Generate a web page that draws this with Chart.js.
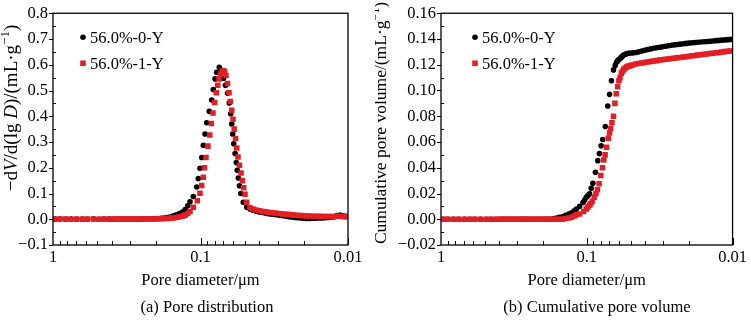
<!DOCTYPE html>
<html>
<head>
<meta charset="utf-8">
<script src="https://cdn.jsdelivr.net/npm/chart.js@4.4.1/dist/chart.umd.min.js"></script>
<style>
  html, body { margin: 0; padding: 0; background: #fff; }
  #wrap { position: relative; width: 751px; height: 321px; overflow: hidden; }
  canvas { position: absolute; top: 0; }
  #pore-dist { left: 0; }
  #pore-cum { left: 375px; }
  .caption { position: absolute; top: 297px; width: 240px; text-align: center;
             font: 16.5px "Liberation Serif", serif; line-height: 20px; color: #000; }
</style>
</head>
<body>
<div id="wrap">
  <canvas id="pore-dist" width="375" height="321"></canvas>
  <canvas id="pore-cum" width="376" height="321"></canvas>
  <div class="caption" style="left:87px">(a) Pore distribution</div>
  <div class="caption" style="left:477px">(b) Cumulative pore volume</div>
</div>
<script>
const seriesNames = ['56.0%-0-Y', '56.0%-1-Y'];

// pore diameters (um), large pores first
const diamCoarse = [0.969, 0.897, 0.820, 0.755, 0.691, 0.633, 0.585, 0.533, 0.488, 0.451, 0.417, 0.392,
  0.374, 0.357, 0.340, 0.325, 0.310, 0.296, 0.282, 0.269, 0.257, 0.245, 0.234, 0.223, 0.213,
  0.203, 0.194, 0.185, 0.177, 0.169, 0.161, 0.154, 0.147, 0.140, 0.133, 0.127, 0.122];
const diamPeak0 = [0.1178, 0.1119, 0.1061, 0.1035, 0.1008, 0.0981, 0.0957, 0.0932, 0.0908, 0.0872,
  0.0840, 0.0819, 0.0797, 0.0777, 0.0746, 0.0718, 0.0698, 0.0677, 0.0656, 0.0638, 0.0624, 0.0614,
  0.0605, 0.0595, 0.0583, 0.0572, 0.0563, 0.0554, 0.0544, 0.0533, 0.0513, 0.0486];
const diamPeak1 = [0.1178, 0.1119, 0.1051, 0.1008, 0.0981, 0.0957, 0.0939, 0.0918, 0.0890, 0.0865,
  0.0845, 0.0823, 0.0801, 0.0781, 0.0764, 0.0749, 0.0732, 0.0712, 0.0698, 0.0686, 0.0672, 0.0656,
  0.0641, 0.0628, 0.0614, 0.0602, 0.0591, 0.0579, 0.0568, 0.0557, 0.0544, 0.0531, 0.0521, 0.0509,
  0.0499, 0.0486];
const diamFine = [0.0462, 0.0441, 0.0420, 0.0401, 0.0383, 0.0365, 0.0349, 0.0333, 0.0317, 0.0303,
  0.0289, 0.0276, 0.0263, 0.0251, 0.0240, 0.0229, 0.0218, 0.0208, 0.0199, 0.0190, 0.0181, 0.0173,
  0.0165, 0.0157, 0.0150, 0.0143, 0.0137, 0.0130, 0.0124, 0.0119, 0.0113, 0.0108, 0.0103];

// -dV/d(lg D), mL/g
const dvBlack = [0.001, 0.001, 0.000, 0.001, 0.000, 0.001, 0.000, 0.001, 0.000, 0.001, 0.001, 0.000,
  0.000, 0.001, 0.000, 0.001, 0.000, 0.001, 0.001, 0.000, 0.001, 0.001, 0.001, 0.002, 0.002,
  0.003, 0.003, 0.004, 0.005, 0.007, 0.009, 0.012, 0.016, 0.021, 0.028, 0.038, 0.052,
  0.068, 0.088, 0.125, 0.158, 0.198, 0.240, 0.287, 0.331, 0.375, 0.419, 0.463, 0.504, 0.545,
  0.571, 0.590, 0.578, 0.548, 0.520, 0.489, 0.451, 0.410, 0.370, 0.331, 0.293, 0.255, 0.220,
  0.190, 0.160, 0.130, 0.100, 0.066, 0.047,
  0.040, 0.035, 0.031, 0.028, 0.026, 0.024, 0.022, 0.020, 0.019, 0.017, 0.016, 0.014, 0.012,
  0.010, 0.009, 0.007, 0.006, 0.005, 0.004, 0.003, 0.003, 0.004, 0.004, 0.005, 0.005, 0.006,
  0.007, 0.008, 0.010, 0.014, 0.016, 0.013, 0.011];
const dvRed = [0.000, 0.001, 0.001, 0.000, 0.001, 0.000, 0.001, 0.001, 0.000, 0.001, 0.000, 0.001,
  0.001, 0.000, 0.001, 0.001, 0.000, 0.001, 0.001, 0.001, 0.000, 0.001, 0.001, 0.001, 0.001,
  0.001, 0.002, 0.002, 0.003, 0.003, 0.004, 0.005, 0.007, 0.009, 0.012, 0.016, 0.022,
  0.030, 0.047, 0.072, 0.101, 0.131, 0.163, 0.200, 0.240, 0.284, 0.327, 0.372, 0.413, 0.453,
  0.491, 0.520, 0.545, 0.564, 0.575, 0.577, 0.573, 0.558, 0.527, 0.491, 0.457, 0.423, 0.388,
  0.350, 0.314, 0.277, 0.242, 0.210, 0.180, 0.150, 0.122, 0.097, 0.066,
  0.045, 0.040, 0.036, 0.033, 0.031, 0.029, 0.027, 0.026, 0.024, 0.023, 0.021, 0.020, 0.019,
  0.018, 0.017, 0.016, 0.015, 0.015, 0.014, 0.013, 0.013, 0.012, 0.012, 0.012, 0.011, 0.011,
  0.011, 0.011, 0.011, 0.012, 0.012, 0.011, 0.010];

// cumulative pore volume, mL/g
const cumBlack = [0, 0, 0, 0, 0, 0, 0, 0, 0, 0, 0, 0,
  0, 0, 0, 0, 0, 0, 0, 0, 0, 0, 0, 0, 0,
  0, 0, 0, 0, 0.0005, 0.001, 0.0015, 0.002, 0.003, 0.004, 0.005, 0.0065,
  0.008, 0.010, 0.013, 0.015, 0.017, 0.0185, 0.0198, 0.024, 0.028, 0.0365, 0.0455, 0.051, 0.057,
  0.062, 0.072, 0.088, 0.097, 0.1075, 0.116, 0.1195, 0.122, 0.123, 0.1238, 0.1245, 0.1255, 0.1265,
  0.1272, 0.1278, 0.1282, 0.1285, 0.129, 0.1292,
  0.1295, 0.1300, 0.1307, 0.1313, 0.1318, 0.1323, 0.1328, 0.1332, 0.1336, 0.1340, 0.1344, 0.1348,
  0.1351, 0.1354, 0.1357, 0.1360, 0.1363, 0.1366, 0.1369, 0.1371, 0.1373, 0.1375, 0.1377, 0.1379,
  0.1381, 0.1383, 0.1385, 0.1387, 0.1389, 0.1391, 0.1393, 0.1395, 0.1397];
const cumRed = [0, 0, 0, 0, 0, 0, 0, 0, 0, 0, 0, 0,
  0, 0, 0, 0, 0, 0, 0, 0, 0, 0, 0, 0, 0,
  0, 0, 0, 0, 0, 0, 0, 0, 0.0005, 0.001, 0.0015, 0.0025,
  0.0035, 0.004, 0.006, 0.008, 0.0095, 0.011, 0.012, 0.014, 0.017, 0.020, 0.023, 0.0275, 0.034,
  0.040, 0.046, 0.050, 0.056, 0.063, 0.067, 0.0705, 0.075, 0.080, 0.090, 0.0975, 0.103, 0.1075,
  0.110, 0.1135, 0.115, 0.1165, 0.1175, 0.1182, 0.1188, 0.119, 0.1195, 0.1198,
  0.1205, 0.1210, 0.1214, 0.1218, 0.1222, 0.1226, 0.1229, 0.1232, 0.1236, 0.1239, 0.1242, 0.1245,
  0.1248, 0.1251, 0.1254, 0.1257, 0.1260, 0.1263, 0.1266, 0.1269, 0.1272, 0.1275, 0.1278, 0.1281,
  0.1284, 0.1287, 0.1290, 0.1293, 0.1296, 0.1299, 0.1302, 0.1304, 0.1306];

const diamBlack = diamCoarse.concat(diamPeak0, diamFine);
const diamRed = diamCoarse.concat(diamPeak1, diamFine);

const FONT = '"Liberation Serif", "Times New Roman", serif';
const RED = '#e31e24';

function points(diam, vals) {
  return diam.map((d, i) => ({ x: d, y: vals[i] }));
}

function isDecade(v) {
  const l = Math.log10(v);
  return Math.abs(l - Math.round(l)) < 1e-6;
}

// rotated axis title built from plain / italic / superscript pieces
function drawRotatedTitle(ctx, parts, cx, cy, size) {
  const fontOf = p => p.sup ? `${Math.round(size * 0.68)}px ${FONT}` : `${p.it ? 'italic ' : ''}${size}px ${FONT}`;
  let total = 0;
  parts.forEach(p => { ctx.font = fontOf(p); p.w = ctx.measureText(p.t).width; total += p.w; });
  ctx.save();
  ctx.translate(cx, cy);
  ctx.rotate(-Math.PI / 2);
  ctx.fillStyle = '#000';
  ctx.textBaseline = 'middle';
  ctx.textAlign = 'left';
  let x = -total / 2;
  parts.forEach(p => {
    ctx.font = fontOf(p);
    ctx.fillText(p.t, x, p.sup ? -size * 0.32 : 0);
    x += p.w;
  });
  ctx.restore();
}

const panelDecor = {
  id: 'panelDecor',
  afterDraw(chart, args, o) {
    const { ctx, chartArea: a, scales: { x, y } } = chart;
    ctx.save();
    ctx.strokeStyle = '#000';
    ctx.lineWidth = 1.3;
    ctx.strokeRect(a.left, a.top, a.right - a.left, a.bottom - a.top);

    ctx.lineWidth = 1;
    ctx.beginPath();
    // log ticks on the bottom axis, pointing inward
    for (let e = -2; e <= -1; e++) {
      for (let k = 1; k <= 9; k++) {
        const v = k * Math.pow(10, e);
        const px = Math.round(x.getPixelForValue(v)) + 0.5;
        const len = k === 1 ? 7 : 4;
        ctx.moveTo(px, a.bottom);
        ctx.lineTo(px, a.bottom - len);
      }
    }
    // left axis: major ticks outward, minor ticks inward
    const ticks = y.ticks.map(t => t.value);
    ticks.forEach((v, i) => {
      const py = Math.round(y.getPixelForValue(v)) + 0.5;
      ctx.moveTo(a.left, py);
      ctx.lineTo(a.left - 4, py);
      if (i < ticks.length - 1) {
        const pm = Math.round(y.getPixelForValue((v + ticks[i + 1]) / 2)) + 0.5;
        ctx.moveTo(a.left, pm);
        ctx.lineTo(a.left + 3, pm);
      }
    });
    ctx.stroke();

    // legend
    ctx.font = `16.5px ${FONT}`;
    ctx.textBaseline = 'middle';
    ctx.textAlign = 'left';
    const lx = a.left + o.legendDx;
    seriesNames.forEach((name, i) => {
      const ly = a.top + 24 + i * 26;
      if (i === 0) {
        ctx.fillStyle = '#000';
        ctx.beginPath();
        ctx.arc(lx, ly, 2.8, 0, Math.PI * 2);
        ctx.fill();
      } else {
        ctx.fillStyle = RED;
        ctx.fillRect(lx - 2.8, ly - 2.8, 5.6, 5.6);
      }
      ctx.fillStyle = '#000';
      ctx.fillText(name, lx + 7, ly + 1);
    });
    ctx.restore();

    drawRotatedTitle(ctx, o.yTitle, o.titleX, o.titleY, o.titleSize);
  }
};

function makePanel(id, cfg) {
  const tickFont = { family: FONT, size: 16.5, lineHeight: 1 };
  return new Chart(document.getElementById(id), {
    type: 'scatter',
    data: {
      datasets: [
        {
          label: seriesNames[0],
          data: points(diamBlack, cfg.black),
          pointStyle: 'circle',
          pointRadius: 2.8,
          pointBackgroundColor: '#000',
          pointBorderWidth: 0,
          order: 1
        },
        {
          label: seriesNames[1],
          data: points(diamRed, cfg.red),
          pointStyle: 'rect',
          pointRadius: 3.9,
          pointBackgroundColor: RED,
          pointBorderWidth: 0,
          order: 0
        }
      ]
    },
    options: {
      responsive: false,
      animation: false,
      devicePixelRatio: 1,
      layout: { padding: { top: 8, right: cfg.padRight, bottom: 30, left: 0 } },
      plugins: {
        legend: { display: false },
        tooltip: { enabled: false },
        panelDecor: cfg.decor
      },
      scales: {
        x: {
          type: 'logarithmic',
          reverse: true,
          min: 0.01,
          max: 1,
          grid: { display: false, drawTicks: false },
          border: { display: false },
          ticks: {
            autoSkip: false,
            maxRotation: 0,
            padding: 4,
            color: '#000',
            font: tickFont,
            callback: v => isDecade(v) ? String(Number(v.toPrecision(3))) : ''
          },
          title: {
            display: true,
            text: 'Pore diameter/μm',
            color: '#000',
            font: { family: FONT, size: 16.5 },
            padding: 0
          },
          afterFit: s => { s.height = 46; }
        },
        y: {
          min: cfg.yMin,
          max: cfg.yMax,
          grid: { display: false, drawTicks: false },
          border: { display: false },
          ticks: {
            stepSize: cfg.yStep,
            padding: 5,
            color: '#000',
            font: tickFont,
            callback: v => {
              const r = Math.abs(v) < 1e-9 ? 0 : v;
              return r.toFixed(cfg.digits).replace('-', '\u2212');
            }
          },
          afterFit: s => { s.width = cfg.axisWidth; }
        }
      }
    },
    plugins: [panelDecor]
  });
}

makePanel('pore-dist', {
  black: dvBlack,
  red: dvRed,
  yMin: -0.1, yMax: 0.8, yStep: 0.1, digits: 1,
  axisWidth: 53, padRight: 27,
  decor: {
    legendDx: 30,
    titleX: 12, titleY: 108, titleSize: 19,
    yTitle: [
      { t: '\u2212d' }, { t: 'V', it: true }, { t: '/d(lg ' }, { t: 'D', it: true },
      { t: ')/(mL\u00b7g' }, { t: '\u22121', sup: true }, { t: ')' }
    ]
  }
});

makePanel('pore-cum', {
  black: cumBlack,
  red: cumRed,
  yMin: -0.02, yMax: 0.16, yStep: 0.02, digits: 2,
  axisWidth: 66, padRight: 17,
  decor: {
    legendDx: 34,
    titleX: 6, titleY: 123, titleSize: 17.5,
    yTitle: [
      { t: 'Cumulative pore volume/(mL\u00b7g' }, { t: '\u22121', sup: true }, { t: ')' }
    ]
  }
});
</script>
</body>
</html>
